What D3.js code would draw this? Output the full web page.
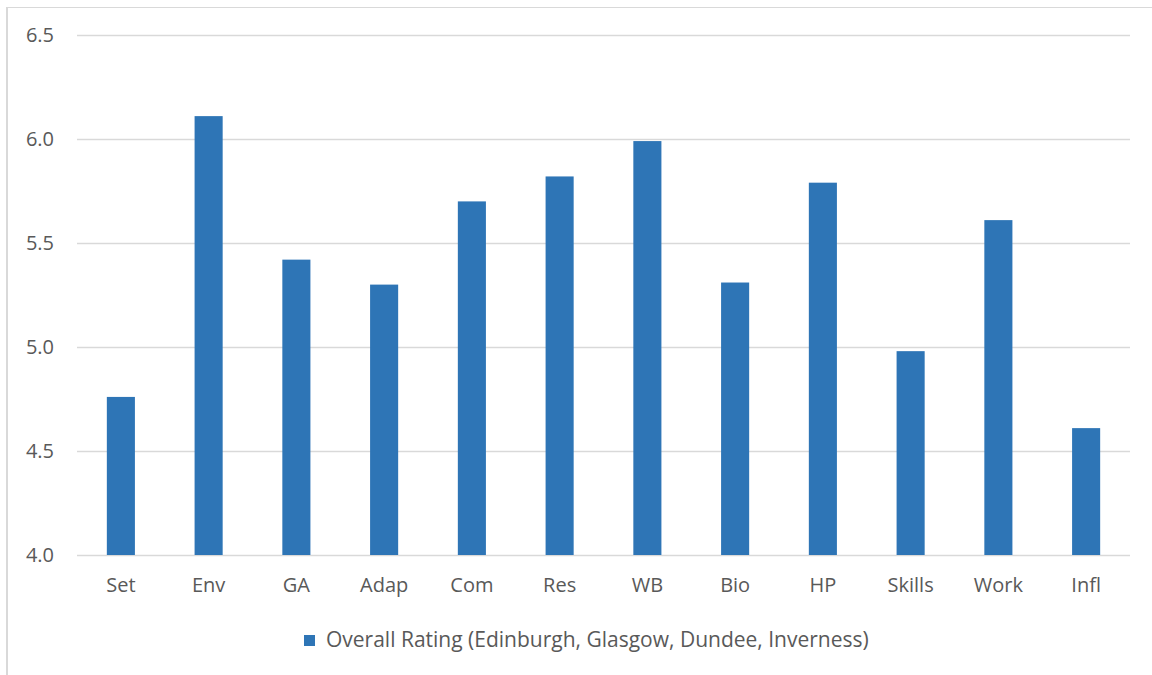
<!DOCTYPE html>
<html lang="en">
<head>
<meta charset="UTF-8">
<title>Overall Rating</title>
<script src="https://d3js.org/d3.v7.min.js"></script>
<style>
  body { margin: 0; background: #fff; }
  text { font-family: "Open Sans", sans-serif; fill: #595959; }
</style>
</head>
<body>
<script>
  // data
  const categories = ['Set', 'Env', 'GA', 'Adap', 'Com', 'Res', 'WB', 'Bio', 'HP', 'Skills', 'Work', 'Infl'];
  const ratings = [4.76, 6.11, 5.42, 5.30, 5.70, 5.82, 5.99, 5.31, 5.79, 4.98, 5.61, 4.61];
  const yTicks = [4.0, 4.5, 5.0, 5.5, 6.0, 6.5];
  const seriesName = 'Overall Rating (Edinburgh, Glasgow, Dundee, Inverness)';

  const width = 1152, height = 675;
  const margin = { top: 35, right: 22, bottom: 120, left: 77 };

  const svg = d3.select('body').append('svg').attr('width', width).attr('height', height);

  // chart frame (only top & left show in the crop)
  svg.append('line').attr('x1', 7).attr('x2', width).attr('y1', 7.5).attr('y2', 7.5)
    .attr('stroke', '#d9d9d9').attr('stroke-width', 1);
  svg.append('line').attr('x1', 7).attr('x2', 7).attr('y1', 7).attr('y2', height)
    .attr('stroke', '#d9d9d9').attr('stroke-width', 2);

  const x = d3.scaleBand().domain(categories)
    .range([margin.left, width - margin.right]).paddingInner(0.68).paddingOuter(0.34);
  const y = d3.scaleLinear().domain([4.0, 6.5]).range([height - margin.bottom, margin.top]);

  // gridlines + y labels
  const yAxis = d3.axisLeft(y).tickValues(yTicks).tickFormat(d3.format('.1f'))
    .tickSize(-(width - margin.left - margin.right)).tickPadding(23);
  const gy = svg.append('g').attr('transform', `translate(${margin.left},0)`).call(yAxis);
  gy.select('.domain').remove();
  gy.selectAll('line').attr('stroke', '#d9d9d9').attr('stroke-width', 1.5);
  gy.selectAll('text').attr('font-size', 20).style('fill', '#595959');

  // bars
  svg.append('g').selectAll('rect')
    .data(ratings)
    .join('rect')
    .attr('x', (d, i) => x(categories[i]))
    .attr('width', x.bandwidth())
    .attr('y', d => y(d))
    .attr('height', d => y(4.0) - y(d))
    .attr('fill', '#2e75b6');

  // x labels
  const xAxis = d3.axisBottom(x).tickSize(0).tickPadding(23);
  const gx = svg.append('g').attr('transform', `translate(0,${y(4.0)})`).call(xAxis);
  gx.select('.domain').remove();
  gx.selectAll('text').attr('font-size', 20).style('fill', '#595959');

  // legend
  const legend = svg.append('g').attr('transform', 'translate(304,635)');
  legend.append('rect').attr('width', 11).attr('height', 11).attr('fill', '#2e75b6');
  legend.append('text').attr('x', 22).attr('y', 12).attr('font-size', 21).text(seriesName);
</script>
</body>
</html>
